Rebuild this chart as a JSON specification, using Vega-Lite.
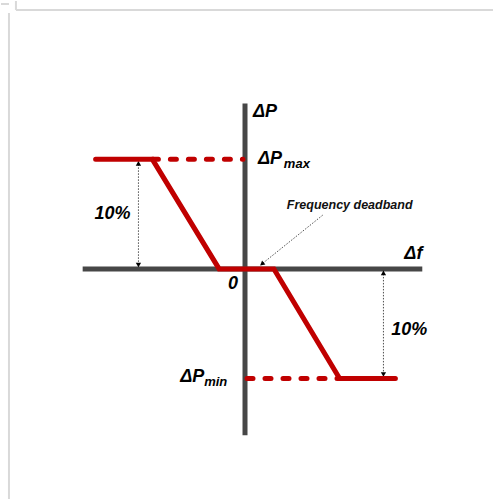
{
  "$schema": "https://vega.github.io/schema/vega-lite/v6.json",
  "width": 494,
  "height": 500,
  "padding": 0,
  "autosize": {"type": "fit", "contains": "padding"},
  "background": "white",
  "config": {"view": {"stroke": null}},
  "datasets": {
    "frame": [
      {"x": -230, "y": 260, "x2": 249, "y2": 260},
      {"x": -237, "y": 257, "x2": -237, "y2": -231},
      {"x": -230, "y": 269, "x2": -230, "y2": 260},
      {"x": -245, "y": 266, "x2": -237, "y2": 266}
    ],
    "axes": [
      {"name": "ΔP axis", "x": 0, "y": 166, "x2": 0, "y2": -167},
      {"name": "Δf axis", "x": -163, "y": 0, "x2": 178, "y2": 0}
    ],
    "droop": [
      {"order": 1, "df": -150, "dp": 110},
      {"order": 2, "df": -93, "dp": 110},
      {"order": 3, "df": -26, "dp": 0},
      {"order": 4, "df": 29, "dp": 0},
      {"order": 5, "df": 95, "dp": -110},
      {"order": 6, "df": 151, "dp": -110}
    ],
    "limits": [
      {"name": "max", "x": -93, "y": 110, "x2": -2, "y2": 110},
      {"name": "min", "x": 2, "y": -110, "x2": 95, "y2": -110}
    ],
    "dims": [
      {"name": "left", "x": -107, "y": 108, "x2": -107, "y2": 2},
      {"name": "right", "x": 139, "y": -2, "x2": 139, "y2": -108},
      {"name": "deadband", "x": 78, "y": 54, "x2": 17, "y2": 5}
    ],
    "heads": [
      {"x": -107, "y": 106, "angle": 0},
      {"x": -107, "y": 4, "angle": 180},
      {"x": 139, "y": -4, "angle": 0},
      {"x": 139, "y": -106, "angle": 180},
      {"x": 17, "y": 5, "angle": 231}
    ],
    "leftText": [
      {"label": "ΔP", "x": 8, "y": 158},
      {"label": "ΔP", "x": 13, "y": 110},
      {"label": "ΔP", "x": -65, "y": -109},
      {"label": "Δf", "x": 160, "y": 15}
    ],
    "centerText": [
      {"label": "0", "x": -12, "y": -15},
      {"label": "10%", "x": -133, "y": 55},
      {"label": "10%", "x": 165, "y": -61}
    ],
    "subText": [
      {"label": "max", "x": 39, "y": 105},
      {"label": "min", "x": -41, "y": -114}
    ],
    "note": [
      {"label": "Frequency deadband", "x": 42, "y": 64}
    ]
  },
  "layer": [
    {
      "data": {"name": "frame"},
      "mark": {"type": "rule", "color": "#d9d9d9", "strokeWidth": 2},
      "encoding": {
        "x": {"field": "x", "type": "quantitative", "scale": {"domain": [-245, 249], "nice": false, "zero": false}, "axis": null},
        "y": {"field": "y", "type": "quantitative", "scale": {"domain": [-231, 269], "nice": false, "zero": false}, "axis": null},
        "x2": {"field": "x2"},
        "y2": {"field": "y2"}
      }
    },
    {
      "data": {"name": "axes"},
      "mark": {"type": "rule", "color": "#474747", "strokeWidth": 5},
      "encoding": {
        "x": {"field": "x", "type": "quantitative"},
        "y": {"field": "y", "type": "quantitative"},
        "x2": {"field": "x2"},
        "y2": {"field": "y2"}
      }
    },
    {
      "data": {"name": "dims"},
      "mark": {"type": "rule", "color": "#222222", "strokeWidth": 0.8, "strokeDash": [1.5, 1.5]},
      "encoding": {
        "x": {"field": "x", "type": "quantitative"},
        "y": {"field": "y", "type": "quantitative"},
        "x2": {"field": "x2"},
        "y2": {"field": "y2"}
      }
    },
    {
      "data": {"name": "heads"},
      "mark": {"type": "point", "shape": "triangle-up", "filled": true, "color": "#000000", "size": 28, "opacity": 1},
      "encoding": {
        "x": {"field": "x", "type": "quantitative"},
        "y": {"field": "y", "type": "quantitative"},
        "angle": {"field": "angle", "type": "quantitative", "scale": null}
      }
    },
    {
      "data": {"name": "limits"},
      "mark": {"type": "rule", "color": "#c00000", "strokeWidth": 5, "strokeDash": [6, 12], "strokeCap": "round"},
      "encoding": {
        "x": {"field": "x", "type": "quantitative"},
        "y": {"field": "y", "type": "quantitative"},
        "x2": {"field": "x2"},
        "y2": {"field": "y2"}
      }
    },
    {
      "data": {"name": "droop"},
      "mark": {"type": "line", "color": "#c00000", "strokeWidth": 5, "strokeCap": "round", "strokeJoin": "miter"},
      "encoding": {
        "x": {"field": "df", "type": "quantitative"},
        "y": {"field": "dp", "type": "quantitative"},
        "order": {"field": "order", "type": "quantitative"}
      }
    },
    {
      "data": {"name": "leftText"},
      "mark": {"type": "text", "font": "Liberation Sans", "fontSize": 18, "fontWeight": "bold", "fontStyle": "italic", "color": "#000000", "baseline": "middle", "align": "left"},
      "encoding": {
        "x": {"field": "x", "type": "quantitative"},
        "y": {"field": "y", "type": "quantitative"},
        "text": {"field": "label"}
      }
    },
    {
      "data": {"name": "centerText"},
      "mark": {"type": "text", "font": "Liberation Sans", "fontSize": 18, "fontWeight": "bold", "fontStyle": "italic", "color": "#000000", "baseline": "middle", "align": "center"},
      "encoding": {
        "x": {"field": "x", "type": "quantitative"},
        "y": {"field": "y", "type": "quantitative"},
        "text": {"field": "label"}
      }
    },
    {
      "data": {"name": "subText"},
      "mark": {"type": "text", "font": "Liberation Sans", "fontSize": 13, "fontWeight": "bold", "fontStyle": "italic", "color": "#000000", "baseline": "middle", "align": "left"},
      "encoding": {
        "x": {"field": "x", "type": "quantitative"},
        "y": {"field": "y", "type": "quantitative"},
        "text": {"field": "label"}
      }
    },
    {
      "data": {"name": "note"},
      "mark": {"type": "text", "font": "Liberation Sans", "fontSize": 12.5, "fontWeight": "bold", "fontStyle": "italic", "color": "#111111", "baseline": "middle", "align": "left"},
      "encoding": {
        "x": {"field": "x", "type": "quantitative"},
        "y": {"field": "y", "type": "quantitative"},
        "text": {"field": "label"}
      }
    }
  ]
}
